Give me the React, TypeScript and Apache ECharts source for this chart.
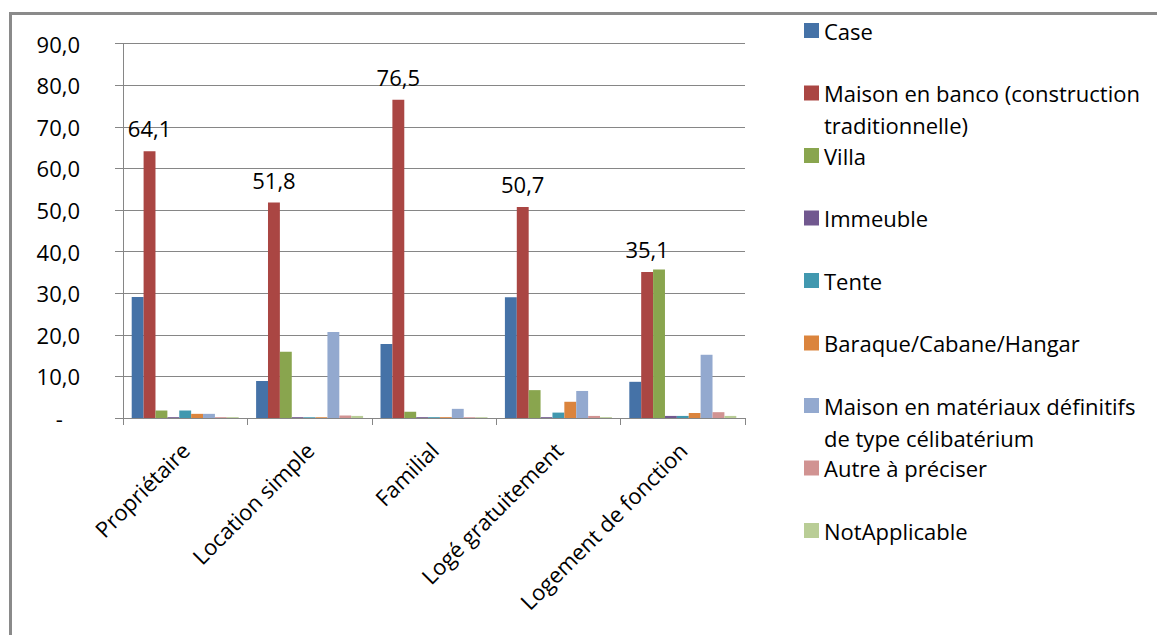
import React, { useEffect, useRef } from "react";
import * as echarts from "echarts";

const categories = ["Propriétaire", "Location simple", "Familial", "Logé gratuitement", "Logement de fonction"];
const seriesNames = [
  "Case",
  "Maison en banco (construction traditionnelle)",
  "Villa",
  "Immeuble",
  "Tente",
  "Baraque/Cabane/Hangar",
  "Maison en matériaux définitifs de type célibatérium",
  "Autre à préciser",
  "NotApplicable",
];
const legendLabels = [
  "Case",
  "Maison en banco (construction\ntraditionnelle)",
  "Villa",
  "Immeuble",
  "Tente",
  "Baraque/Cabane/Hangar",
  "Maison en matériaux définitifs\nde type célibatérium",
  "Autre à préciser",
  "NotApplicable",
];
const caseValues = [29.1, 8.9, 17.8, 29.0, 8.7];
const bancoValues = [64.1, 51.8, 76.5, 50.7, 35.1];
const villaValues = [1.8, 15.9, 1.5, 6.7, 35.7];
const immeubleValues = [0.2, 0.2, 0.2, 0.2, 0.5];
const tenteValues = [1.8, 0.2, 0.2, 1.3, 0.5];
const baraqueValues = [1.0, 0.2, 0.2, 3.9, 1.2];
const materiauxValues = [1.0, 20.7, 2.2, 6.5, 15.2];
const autreValues = [0.2, 0.6, 0.2, 0.5, 1.4];
const naValues = [0.2, 0.5, 0.2, 0.2, 0.5];
const yTicks = [0, 10, 20, 30, 40, 50, 60, 70, 80, 90];

const colors = ["#4572A7", "#AA4643", "#89A54E", "#71588F", "#4198AF", "#DB843D", "#93A9CF", "#D19392", "#B9CD96"];
const FONT = "Open Sans";
const GRAY = "#868686";

const fmt = (v: number) => (v === 0 ? "-   " : v.toFixed(1).replace(".", ","));

export default function App() {
  const ref = useRef<HTMLDivElement>(null);
  useEffect(() => {
    if (!ref.current) return;
    const chart = echarts.init(ref.current, undefined, { renderer: "svg" });
    const allValues = [caseValues, bancoValues, villaValues, immeubleValues, tenteValues, baraqueValues, materiauxValues, autreValues, naValues];
    const series = seriesNames.map((name, i) => ({
      name,
      type: "bar",
      data: allValues[i],
      barGap: "0%",
      barCategoryGap: "14%",
      itemStyle: { color: colors[i] },
      label:
        i === 1
          ? {
              show: true,
              position: "top",
              distance: 12,
              fontSize: 22,
              fontFamily: FONT,
              color: "#000",
              formatter: (p: any) => fmt(p.value),
            }
          : { show: false },
    }));
    const legends = seriesNames.map((name, i) => {
      const iconTop = 23 + i * 62.5;
      const multi = legendLabels[i].includes("\n");
      return {
        data: [name],
        orient: "vertical",
        left: 804,
        top: multi ? iconTop - 40.5 : iconTop - 8.5,
        padding: 0,
        icon: "rect",
        itemWidth: 15,
        itemHeight: 15,
        selectedMode: false,
        formatter: () => (multi ? " \n" + legendLabels[i] : legendLabels[i]),
        textStyle: {
          fontSize: 22,
          fontFamily: FONT,
          color: "#000",
          lineHeight: 32,
        },
      };
    });
    chart.setOption({
      animation: false,
      backgroundColor: "#fff",
      textStyle: { fontFamily: FONT },
      grid: { left: 123, right: 412, top: 43.6, bottom: 217 },
      xAxis: {
        type: "category",
        data: categories,
        axisLine: { lineStyle: { color: GRAY, width: 1 } },
        axisTick: { show: true, length: 7, lineStyle: { color: GRAY } },
        axisLabel: { rotate: 45, fontSize: 22, fontFamily: FONT, color: "#000", margin: 28, interval: 0 },
      },
      yAxis: {
        type: "value",
        min: yTicks[0],
        max: yTicks[yTicks.length - 1],
        interval: 10,
        axisLine: { show: true, lineStyle: { color: GRAY, width: 1 } },
        axisTick: { show: true, length: 8, lineStyle: { color: GRAY } },
        splitLine: { lineStyle: { color: GRAY, width: 1 } },
        axisLabel: { fontSize: 22, fontFamily: FONT, color: "#000", margin: 43, formatter: (v: number) => fmt(v) },
      },
      legend: legends,
      graphic: [
        {
          type: "rect",
          shape: { x: 10.5, y: 13.5, width: 1200, height: 700 },
          style: { fill: "none", stroke: "#8a8a8a", lineWidth: 3 },
          silent: true,
          z: -1,
        },
      ],
      series,
    });
    return () => chart.dispose();
  }, []);
  return <div ref={ref} style={{ position: "fixed", left: 0, top: 0, width: 1157, height: 635 }} />;
}
